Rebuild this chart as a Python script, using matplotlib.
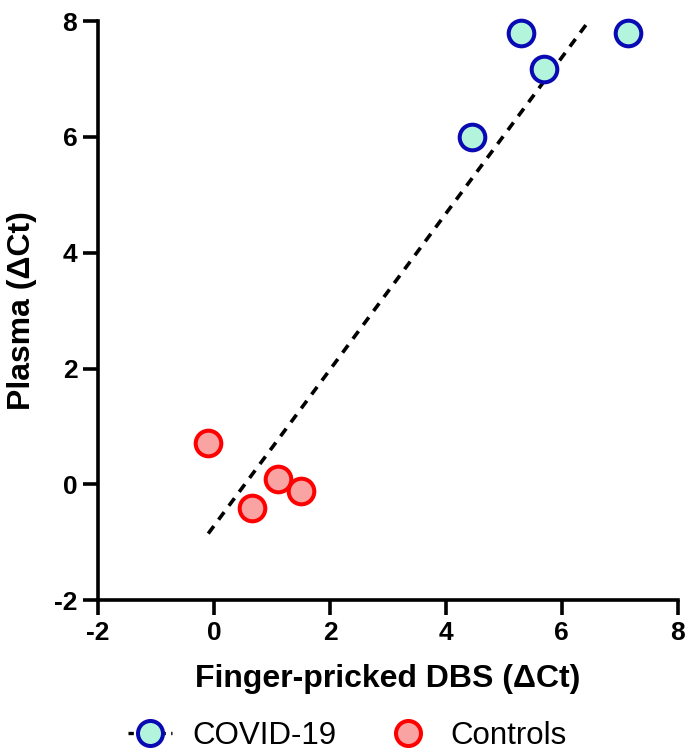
import matplotlib
matplotlib.use("Agg")
import matplotlib.pyplot as plt
from matplotlib.lines import Line2D

plt.rcParams['font.family'] = ['Liberation Sans', 'DejaVu Sans']
plt.rcParams['axes.unicode_minus'] = False

covid_x = [5.30, 7.14, 5.69, 4.45]
covid_y = [7.80, 7.80, 7.18, 6.00]
ctrl_x = [-0.10, 0.66, 1.10, 1.50]
ctrl_y = [0.71, -0.40, 0.09, -0.12]
fit_x = [-0.10, 6.45]
fit_y = [-0.85, 7.98]

covid_face, covid_edge = '#b3f5dc', '#0a0ab4'
ctrl_face, ctrl_edge = '#f9a3a3', '#ff0000'

fig = plt.figure(figsize=(6.86, 7.54), dpi=100)
ax = fig.add_axes([0.143, 0.204, 0.845, 0.768])

ax.plot(fit_x, fit_y, color='black', linestyle=(0, (2.6, 2.2)), linewidth=2.6, zorder=2)
ax.scatter(covid_x, covid_y, s=340, facecolor=covid_face, edgecolor=covid_edge,
           linewidth=2.9, zorder=3, clip_on=False)
ax.scatter(ctrl_x, ctrl_y, s=340, facecolor=ctrl_face, edgecolor=ctrl_edge,
           linewidth=2.9, zorder=3, clip_on=False)

ax.set_xlim(-2, 8)
ax.set_ylim(-2, 8)
ax.set_xticks([-2, 0, 2, 4, 6, 8])
ax.set_yticks([-2, 0, 2, 4, 6, 8])
for s in ['top', 'right']:
    ax.spines[s].set_visible(False)
for s in ['left', 'bottom']:
    ax.spines[s].set_linewidth(2.6)
ax.tick_params(width=2.6, length=11, labelsize=19, pad=4)
for lab in ax.get_xticklabels() + ax.get_yticklabels():
    lab.set_fontweight('bold')

ax.set_xlabel('Finger-pricked DBS (\u0394Ct)', fontsize=23, fontweight='bold', labelpad=14)
ax.set_ylabel('Plasma (\u0394Ct)', fontsize=23, fontweight='bold', labelpad=12)

h1 = Line2D([], [], color='black', linestyle=(0, (1.6, 1.6)), linewidth=2.4, marker='o',
            markersize=18, markerfacecolor=covid_face, markeredgecolor=covid_edge,
            markeredgewidth=2.9)
h2 = Line2D([], [], linestyle='none', marker='o', markersize=18,
            markerfacecolor=ctrl_face, markeredgecolor=ctrl_edge, markeredgewidth=2.9)
fig.legend([h1, h2], ['COVID-19', 'Controls'], loc='lower center', ncol=2,
           frameon=False, fontsize=22.5, bbox_to_anchor=(0.506, -0.033),
           handlelength=1.4, columnspacing=1.6, handletextpad=0.65)

fig.savefig('out.png', dpi=100)
